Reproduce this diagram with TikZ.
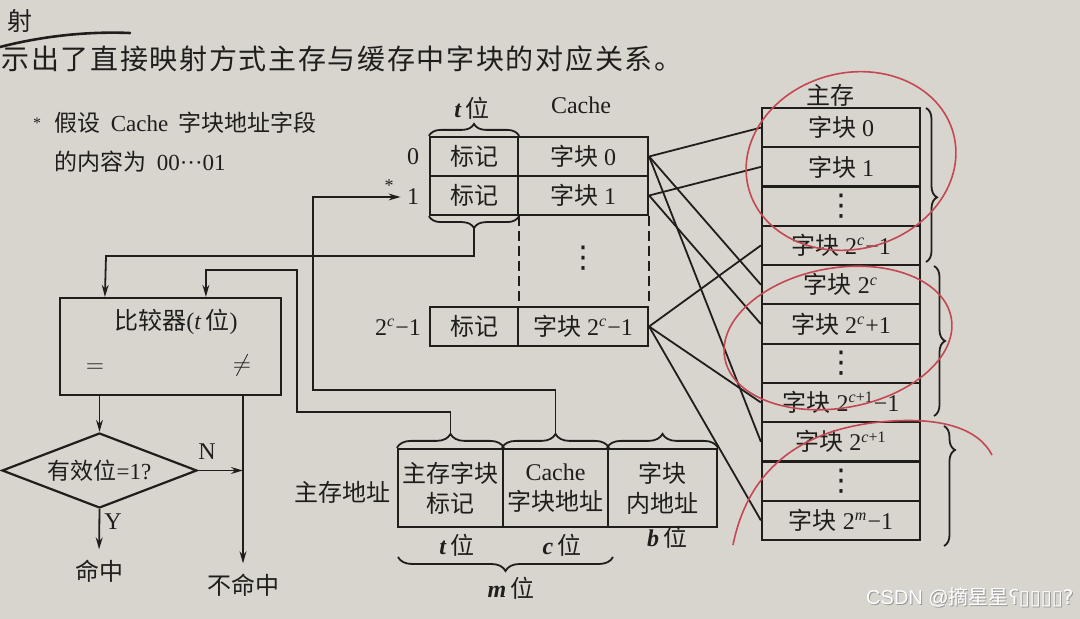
\documentclass[tikz,border=0pt]{standalone}
\usepackage{fontspec}
\setmainfont{Liberation Serif}
\newfontfamily\cjk{Noto Sans CJK SC}
\newfontfamily\cjkwide[LetterSpace=6]{Noto Sans CJK SC}
\newfontfamily\dvs{DejaVu Sans}
\newfontfamily\lsans{Liberation Sans}
\usetikzlibrary{decorations.pathreplacing,arrows.meta,shapes.geometric}
\newcommand{\zh}[1]{{\cjk #1}}
\newcommand{\fs}[1]{\fontsize{#1}{#1}\selectfont}
\newcommand{\fsl}[2]{\fontsize{#1}{#2}\selectfont}
\newcommand{\sbv}[1]{\textbf{\textit{#1}}}
\newcommand{\vd}{{\dvs\fs{15}⋮}}
\definecolor{ink}{RGB}{32,30,29}
\definecolor{paper}{RGB}{216,213,206}
\definecolor{penred}{RGB}{196,72,84}
\begin{document}
\begin{tikzpicture}[x=0.5pt,y=-0.5pt,
  cellbox/.style={draw=ink, line width=1.1pt, inner sep=0pt, font=\fs{12}, text=ink},
  conn/.style={draw=ink, line width=0.9pt},
  arr/.style={conn, -{Stealth[length=6pt,width=3.4pt]}},
  brc/.style={draw=ink, line width=0.9pt, decorate, decoration={brace, amplitude=6pt}},
  txt/.style={inner sep=0pt, font=\fs{12}, text=ink},
  pen/.style={draw=penred, line width=0.8pt},
  mmcell/.style={cellbox, minimum width=79pt, minimum height=19.64pt}]
\fill[paper] (0,0) rectangle (1080,619);
\useasboundingbox (0,0) rectangle (1080,619);

% heading
\node[txt, font=\fs{12.5}] (sec) at (20,21) {\zh{射}};
\draw[ink, line width=1.3pt, line cap=round] (0,47) .. controls (35,38) and (80,31) .. (130,33);
\node[txt, anchor=west, font=\fs{14}] (head) at (1,59) {{\cjkwide 示出了直接映射方式主存与缓存中字块的对应关系。}};

% note
\node[txt, font=\fs{8}] (star) at (37,123) {*};
\node[txt, anchor=west, font=\fs{11.5}] (note1) at (54,123) {\zh{假设}\hspace{0.45em}Cache\hspace{0.45em}\zh{字块地址字段}};
\node[txt, anchor=west, font=\fs{11.5}] (note2) at (54,162) {\zh{的内容为}\hspace{0.45em}00···01};

% cache
\node[txt] (tlab) at (472,108) {\sbv{t}\,\zh{位}};
\node[txt] (clab) at (581,105) {Cache};
\node[cellbox, minimum width=44pt, minimum height=19.5pt] (t0) at (474,156.5) {\zh{标记}};
\node[cellbox, minimum width=65pt, minimum height=19.5pt] (d0) at (583,156.5) {\zh{字块}\ 0};
\node[cellbox, minimum width=44pt, minimum height=19.5pt] (t1) at (474,195.5) {\zh{标记}};
\node[cellbox, minimum width=65pt, minimum height=19.5pt] (d1) at (583,195.5) {\zh{字块}\ 1};
\node[cellbox, minimum width=44pt, minimum height=19.5pt] (tl) at (474,326.5) {\zh{标记}};
\node[cellbox, minimum width=65pt, minimum height=19.5pt] (dl) at (583,326.5) {\zh{字块}\ 2\textsuperscript{\textit{c}}−1};
\draw[conn, dash pattern=on 5pt off 2.5pt] (t1.south east) -- (tl.north east);
\draw[conn, dash pattern=on 5pt off 2.5pt] (d1.south east) -- (dl.north east);
\node[txt] (cdots) at (583,258) {\vd};
\draw[brc] (t0.north west) -- (t0.north east);
\draw[brc] (t1.south east) -- (t1.south west);
\coordinate (ctipb) at (474,228);
\node[txt, inner sep=1pt] (i0) at (413,157) {0};
\node[txt, inner sep=1pt] (i1) at (413,197) {1};
\node[txt, font=\fs{9}] (istar) at (389,186) {*};
\node[txt] (il) at (398,327) {2\textsuperscript{\textit{c}}−1};

% main memory
\node[txt] (mmlab) at (830,95) {\zh{主存}};
\node[mmcell] (m0) at (841,127.6) {\zh{字块}\ 0};
\node[mmcell] (m1) at (841,166.9) {\zh{字块}\ 1};
\node[mmcell] (m2) at (841,206.2) {\vd};
\node[mmcell] (m3) at (841,245.4) {\zh{字块}\ 2\textsuperscript{\textit{c}}−1};
\node[mmcell] (m4) at (841,284.7) {\zh{字块}\ 2\textsuperscript{\textit{c}}};
\node[mmcell] (m5) at (841,324.0) {\zh{字块}\ 2\textsuperscript{\textit{c}}+1};
\node[mmcell] (m6) at (841,363.3) {\vd};
\node[mmcell] (m7) at (841,402.5) {\zh{字块}\ 2\textsuperscript{\textit{c}+1}−1};
\node[mmcell] (m8) at (841,441.8) {\zh{字块}\ 2\textsuperscript{\textit{c}+1}};
\node[mmcell] (m9) at (841,481.1) {\vd};
\node[mmcell] (m10) at (841,520.4) {\zh{字块}\ 2\textsuperscript{\textit{m}}−1};
\draw[brc, decoration={brace, amplitude=5.5pt, aspect=0.58}] (926,108) -- (926,262);
\draw[brc, decoration={brace, amplitude=5.5pt, aspect=0.5}] (934,266) -- (934,416);
\draw[brc, decoration={brace, amplitude=5.5pt, aspect=0.2}] (944,426) -- (944,546);

% mapping lines
\draw[conn] (d0.east) -- (m0.west);
\draw[conn] (d0.east) -- (m4.west);
\draw[conn] (d0.east) -- (m8.west);
\draw[conn] (d1.east) -- (m1.west);
\draw[conn] (d1.east) -- (m5.west);
\draw[conn] (dl.east) -- (m3.west);
\draw[conn] (dl.east) -- (m7.west);
\draw[conn] (dl.east) -- (m10.west);

% address
\node[txt] (alab) at (342,492) {\zh{主存地址}};
\node[cellbox, minimum width=52.5pt, minimum height=39pt, align=center, font=\fsl{12}{15}] (a1) at (450.5,488) {\zh{主存字块}\\\zh{标记}};
\node[cellbox, minimum width=52.5pt, minimum height=39pt, align=center, font=\fsl{12}{15}] (a2) at (555.5,488) {Cache\\\zh{字块地址}};
\node[cellbox, minimum width=54.5pt, minimum height=39pt, align=center, font=\fsl{12}{15}] (a3) at (662.5,488) {\zh{字块}\\\zh{内地址}};
\draw[brc, decoration={brace, amplitude=7pt}] (a1.north west) -- (a1.north east);
\draw[brc, decoration={brace, amplitude=7pt}] (a2.north west) -- (a2.north east);
\draw[brc, decoration={brace, amplitude=7pt}] (a3.north west) -- (a3.north east);
\coordinate (atip1) at (450.5,435);
\coordinate (atip2) at (555.5,435);
\node[txt] (tbit) at (457,545) {\sbv{t}\,\zh{位}};
\node[txt] (cbit) at (562,545) {\sbv{c}\,\zh{位}};
\node[txt] (bbit) at (667,537) {\sbv{b}\,\zh{位}};
\draw[brc, decoration={brace, amplitude=7pt}] (613,557) -- (398,557);
\node[txt] (mbit) at (511,588) {\sbv{m}\,\zh{位}};

% comparator
\node[cellbox, minimum width=110.5pt, minimum height=48.5pt] (cmp) at (170.5,346.5) {};
\node[txt, font=\fs{12}] (cmpt) at (176,322) {\zh{比较器}(\textit{t}\,\zh{位})};
\node[txt] (eq) at (95,368) {$=$};
\node[txt] (neq) at (242,366) {$\neq$};
\coordinate (cin1) at ([xshift=23pt]cmp.north west);
\coordinate (cin2) at ([xshift=73.5pt]cmp.north west);
\draw[arr] (ctipb) |- (106,256) -- (cin1);
\draw[arr] (atip1) -- (450.5,412) -- (297,412) -- (297,270) -| (cin2);
\draw[arr, shorten >=2pt] (atip2) |- (313,390) |- (i1.west);

\node[draw=ink, line width=1.1pt, diamond, aspect=2.6, minimum width=97.5pt, minimum height=37.5pt, inner sep=0pt, font=\fs{11.5}, text=ink] (dia) at (99.5,470.5) {\zh{有效位}=1?};
\draw[arr] (dia.north |- cmp.south) -- (dia.north);
\coordinate (nend) at (243,470.5);
\draw[arr] (dia.east) -- (nend);
\node[txt] (nlab) at (207,452) {N};
\node[txt, inner sep=1pt] (hit) at (99,571) {\zh{命中}};
\node[txt, inner sep=1pt] (miss) at (243,585) {\zh{不命中}};
\draw[arr, shorten >=4pt] (dia.south) -- (hit.north);
\node[txt] (ylab) at (113,522) {Y};
\draw[arr, shorten >=4pt] (miss.north |- cmp.south) -- (miss.north);

% red pen marks
\draw[pen, rotate around={15:(851,161)}] (851,161) ellipse [x radius=106, y radius=88];
\draw[pen, rotate around={10:(838,338)}] (838,338) ellipse [x radius=115, y radius=70];
\draw[pen] (733,545) .. controls (748,470) and (800,430) .. (880,422) .. controls (940,416) and (978,428) .. (992,455);

% watermark
\node[inner sep=0pt, anchor=east, font=\lsans\fs{10}, text=black!40] (wms) at (1075,598.5) {CSDN @\zh{摘星星}{\dvs ʕ▯▯▯▯?}};
\node[inner sep=0pt, anchor=east, font=\lsans\fs{10}, text=white] (wm) at (1074,597.5) {CSDN @\zh{摘星星}{\dvs ʕ▯▯▯▯?}};
\end{tikzpicture}
\end{document}
